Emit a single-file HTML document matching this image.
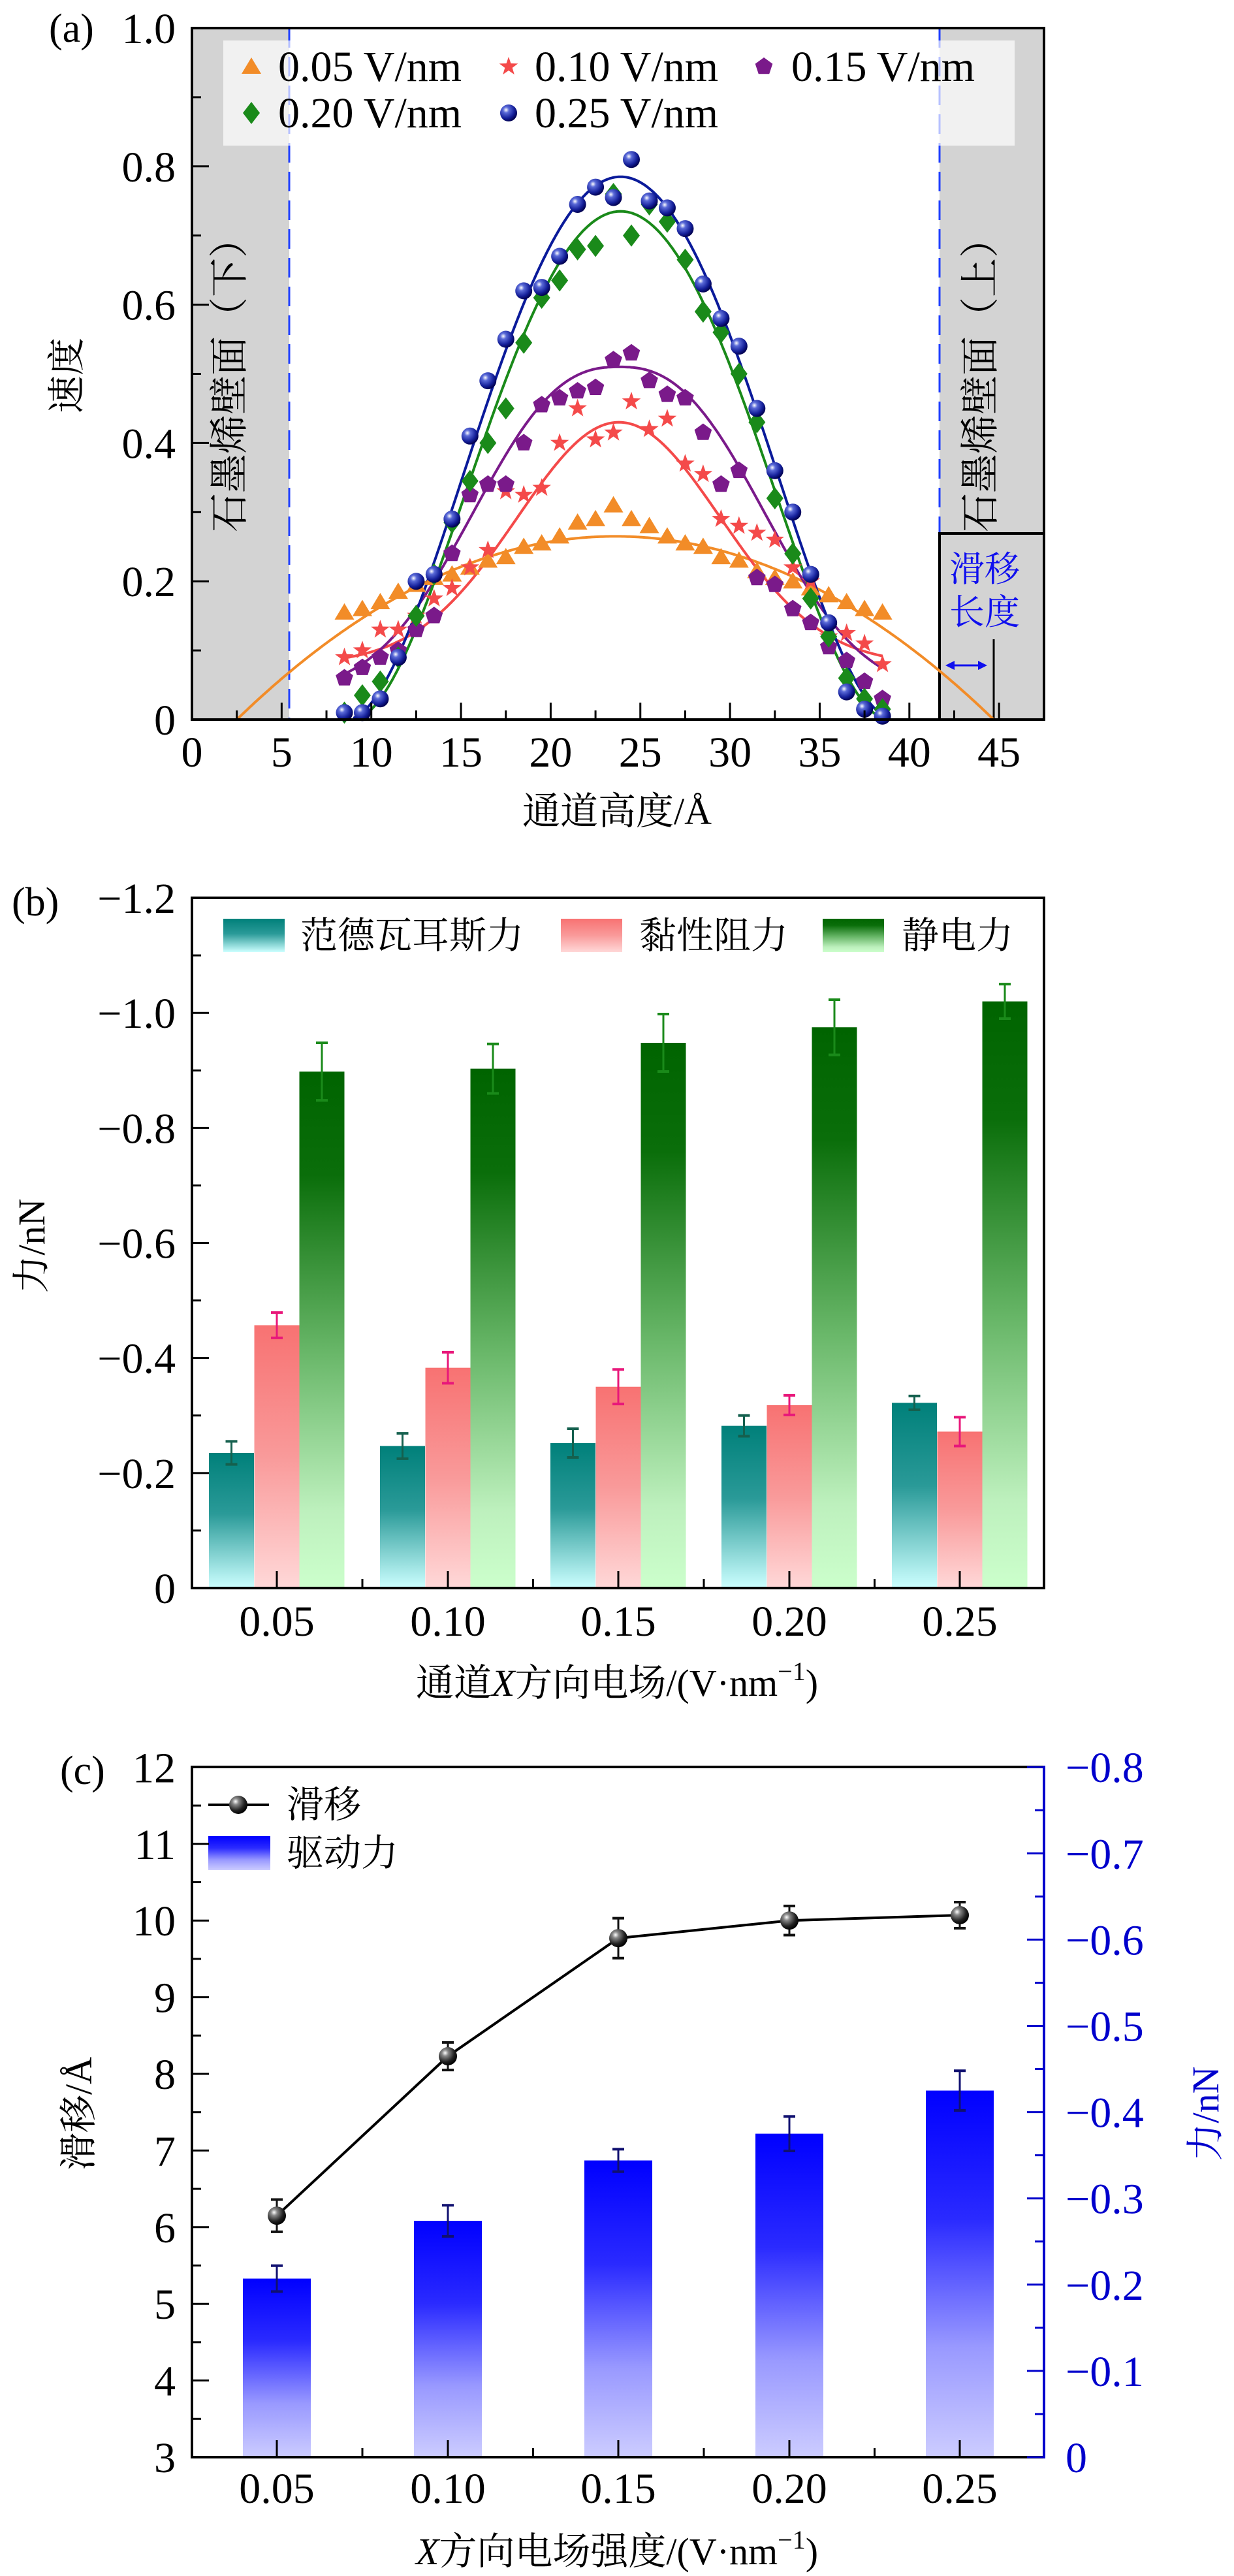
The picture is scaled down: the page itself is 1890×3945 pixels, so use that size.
<!DOCTYPE html>
<html><head><meta charset="utf-8"><style>
html,body{margin:0;padding:0;background:#fff}
svg{display:block}
text{font-family:"Liberation Serif","Noto Serif CJK SC",serif}
.cj{font-family:"Liberation Serif","Noto Serif CJK SC","Noto Sans CJK SC",serif}
</style></head><body>
<svg id="s" xmlns="http://www.w3.org/2000/svg" width="1890" height="3945" viewBox="0 0 1890 3945">
<defs>
<radialGradient id="gb" cx="0.35" cy="0.32" r="0.7"><stop offset="0" stop-color="#fff"/><stop offset="0.25" stop-color="#5a6ad8"/><stop offset="0.7" stop-color="#15209a"/><stop offset="1" stop-color="#000050"/></radialGradient>
<radialGradient id="gk" cx="0.35" cy="0.32" r="0.7"><stop offset="0" stop-color="#fff"/><stop offset="0.25" stop-color="#888"/><stop offset="0.7" stop-color="#222"/><stop offset="1" stop-color="#000"/></radialGradient>
<linearGradient id="gt" x1="0" y1="0" x2="0" y2="1"><stop offset="0" stop-color="#00807a"/><stop offset="0.45" stop-color="#2a9a98"/><stop offset="1" stop-color="#ccffff"/></linearGradient>
<linearGradient id="gp" x1="0" y1="0" x2="0" y2="1"><stop offset="0" stop-color="#f87272"/><stop offset="0.5" stop-color="#f99a9a"/><stop offset="1" stop-color="#ffd8d8"/></linearGradient>
<linearGradient id="gg" x1="0" y1="0" x2="0" y2="1"><stop offset="0" stop-color="#006400"/><stop offset="0.2" stop-color="#0a6e0a"/><stop offset="0.55" stop-color="#6ab86a"/><stop offset="0.85" stop-color="#bdf0bd"/><stop offset="1" stop-color="#ccffcc"/></linearGradient>
<linearGradient id="gbl" x1="0" y1="0" x2="0" y2="1"><stop offset="0" stop-color="#0000ff"/><stop offset="0.35" stop-color="#2a2aff"/><stop offset="0.7" stop-color="#9999ff"/><stop offset="1" stop-color="#ccccff"/></linearGradient>
</defs>
<g id="g"></g>
</svg>
<script>
var o=[];
var FS=66,DY=23;
function P(s){o.push(s);}
function line(x1,y1,x2,y2,c,w,extra){P('<line x1="'+x1+'" y1="'+y1+'" x2="'+x2+'" y2="'+y2+'" stroke="'+(c||'#000')+'" stroke-width="'+(w||4)+'" '+(extra||'')+'/>');}
function txt(x,y,s,size,anchor,extra){P('<text x="'+x+'" y="'+y+'" font-size="'+size+'" text-anchor="'+(anchor||'start')+'" '+(extra||'')+'>'+s+'</text>');}
function vtxt(x,y,s,size,extra){P('<text x="0" y="0" font-size="'+size+'" text-anchor="middle" transform="translate('+x+','+y+') rotate(-90)" '+(extra||'')+'>'+s+'</text>');}
var L=294,R=1599;
// ===== Panel A =====
(function(){
var T=43,B=1102;
function X(a){return L+a*27.47;} function Y(v){return B-v*1059;}
P('<rect x="'+L+'" y="'+T+'" width="'+(443-L)+'" height="'+(B-T)+'" fill="#d3d3d3"/>');
P('<rect x="1439" y="'+T+'" width="'+(R-1439)+'" height="'+(B-T)+'" fill="#d3d3d3"/>');
line(443,T,443,B,'#1f3fff',3,'stroke-dasharray="30,14"');
line(1439,T,1439,817,'#1f3fff',3,'stroke-dasharray="30,14"');
P('<rect x="342" y="62" width="1212" height="161" fill="#fff" fill-opacity="0.68"/>');
vtxt(372,575,'石墨烯壁面（下）',60,'class="cj"');
vtxt(1522,575,'石墨烯壁面（上）',60,'class="cj"');
P('<rect x="1439" y="817" width="160" height="285" fill="none" stroke="#000" stroke-width="4"/>');
txt(1508,890,'滑移',54,'middle','class="cj" fill="#1010ee"');
txt(1508,956,'长度',54,'middle','class="cj" fill="#1010ee"');
line(1522,979,1522,1102,'#000',3);
line(1458,1019,1502,1019,'#1010ee',3);
P('<polygon points="1448,1019 1462,1012 1462,1026" fill="#1010ee"/><polygon points="1512,1019 1498,1012 1498,1026" fill="#1010ee"/>');
function curve(f,a0,a1,c){var p=[];for(var a=a0;a<=a1+1e-9;a+=0.1){var v=f(a);if(v<0)v=0;p.push(X(a).toFixed(1)+','+Y(v).toFixed(1));}P('<polyline points="'+p.join(' ')+'" fill="none" stroke="'+c+'" stroke-width="4"/>');}
curve(function(a){return 0.265*(1-Math.pow((a-23.6)/21.1,2));},2.5,44.7,'#f28c28');
curve(function(a){var d=(a-23.8)/8;return 0.08+0.35*Math.exp(-d*d);},8.5,38.5,'#f44a4a');
curve(function(a){var d=Math.abs(a-23.8)/10;return 0.04+0.47*Math.exp(-Math.pow(d,2.5));},8.5,38.5,'#7a1a8a');
curve(function(a){var d=(a-23.9)/15;var u=1-d*d;return u<0?0:0.735*u*u;},8.5,38.5,'#1a8a1a');
curve(function(a){var d=(a-23.9)/15.3;var u=1-d*d;return u<0?0:0.785*u*u;},9,38.3,'#0a1a9a');
function tri(x,y,c){P('<polygon points="'+x+','+(y-14)+' '+(x-15)+','+(y+11)+' '+(x+15)+','+(y+11)+'" fill="'+c+'"/>');}
function star(x,y,c){var p=[];for(var i=0;i<10;i++){var r=i%2?6:15;var t=-Math.PI/2+i*Math.PI/5;p.push((x+r*Math.cos(t)).toFixed(1)+','+(y+r*Math.sin(t)).toFixed(1));}P('<polygon points="'+p.join(' ')+'" fill="'+c+'"/>');}
function pent(x,y,c){var p=[];for(var i=0;i<5;i++){var t=-Math.PI/2+i*2*Math.PI/5;p.push((x+14*Math.cos(t)).toFixed(1)+','+(y+14*Math.sin(t)).toFixed(1));}P('<polygon points="'+p.join(' ')+'" fill="'+c+'"/>');}
function dia(x,y,c){P('<polygon points="'+x+','+(y-17)+' '+(x+13)+','+y+' '+x+','+(y+17)+' '+(x-13)+','+y+'" fill="'+c+'"/>');}
function ball(x,y){P('<circle cx="'+x+'" cy="'+y+'" r="13" fill="url(#gb)"/>');}
var dO=[.155,.16,.17,.185,.195,.205,.21,.22,.23,.235,.25,.255,.265,.285,.29,.31,.29,.28,.265,.255,.25,.235,.23,.215,.205,.2,.19,.18,.17,.16,.155];
var dR=[.09,.1,.13,.13,.15,.175,.19,.22,.245,.33,.325,.335,.4,.45,.405,.415,.46,.42,.435,.37,.355,.29,.28,.27,.26,.22,.2,.12,.125,.11,.08];
var dP=[.06,.075,.09,.1,.13,.15,.24,.325,.34,.34,.4,.455,.465,.475,.48,.52,.53,.49,.47,.465,.415,.34,.36,.205,.195,.16,.14,.105,.085,.055,.03];
var dG=[.01,.035,.055,.09,.15,.21,.285,.345,.4,.45,.545,.61,.635,.68,.685,.76,.7,.745,.72,.665,.59,.56,.5,.43,.32,.24,.175,.12,.06,.03,.015];
var dB=[.01,.01,.03,.09,.2,.21,.29,.41,.49,.55,.62,.625,.67,.745,.77,.755,.81,.75,.74,.71,.63,.58,.54,.45,.36,.3,.21,.14,.04,.015,.005];
for(var i=0;i<31;i++){var a=8.5+i,x=X(a);
tri(x,Y(dO[i]),'#f28c28');star(x,Y(dR[i]),'#f44a4a');pent(x,Y(dP[i]),'#7a1a8a');dia(x,Y(dG[i]),'#1a8a1a');ball(x,Y(dB[i]));}
tri(385,102,'#f28c28');txt(426,124,'0.05 V/nm',FS);
star(779,102,'#f44a4a');txt(819,124,'0.10 V/nm',FS);
pent(1170,102,'#7a1a8a');txt(1212,124,'0.15 V/nm',FS);
dia(385,173,'#1a8a1a');txt(426,195,'0.20 V/nm',FS);
ball(779,173);txt(819,195,'0.25 V/nm',FS);
P('<rect x="'+L+'" y="'+T+'" width="'+(R-L)+'" height="'+(B-T)+'" fill="none" stroke="#000" stroke-width="4"/>');
for(var a=0;a<=47.5;a+=2.5){var x=X(a);var maj=(a%5==0);line(x,B,x,B-(maj?26:14),'#000',3);if(maj)txt(x,1174,a,FS,'middle');}
for(var v=0;v<=1.001;v+=0.1){var y=Y(v);var maj=(Math.round(v*10)%2==0);line(L,y,L+(maj?26:14),y,'#000',3);if(maj)txt(269,y+DY,v<0.01?'0':v.toFixed(1),FS,'end');}
txt(75,64,'(a)',62);
vtxt(122,575,'速度',58,'class="cj"');
txt(945,1262,'通道高度/Å',58,'middle','class="cj"');
})();
// ===== Panel B =====
(function(){
var T=1375,B=2432;function Y(m){return B-m*880.8;}
var C=[424,686,947,1209,1470],w=69;
var t=[.235,.247,.252,.282,.322],te=[.02,.022,.025,.018,.012];
var p=[.457,.383,.35,.318,.272],pe=[.022,.027,.03,.017,.025];
var g=[.898,.903,.948,.975,1.02],ge=[.05,.043,.05,.048,.03];
function bar(x,m,e,fill,ec){P('<rect x="'+x+'" y="'+Y(m)+'" width="'+w+'" height="'+(B-Y(m))+'" fill="url(#'+fill+')"/>');var cx=x+w/2;line(cx,Y(m+e),cx,Y(m-e),ec,3);line(cx-9,Y(m+e),cx+9,Y(m+e),ec,4);line(cx-9,Y(m-e),cx+9,Y(m-e),ec,4);}
for(var i=0;i<5;i++){bar(C[i]-104,t[i],te[i],'gt','#15604e');bar(C[i]-34.5,p[i],pe[i],'gp','#e8177a');bar(C[i]+34.5,g[i],ge[i],'gg','#1a8a1a');}
P('<rect x="342" y="1407" width="94" height="51" fill="url(#gt)"/><rect x="859" y="1407" width="94" height="51" fill="url(#gp)"/><rect x="1260" y="1407" width="94" height="51" fill="url(#gg)"/>');
txt(460,1452,'范德瓦耳斯力',57,'start','class="cj"');
txt(979,1452,'黏性阻力',57,'start','class="cj"');
txt(1381,1452,'静电力',57,'start','class="cj"');
P('<rect x="'+L+'" y="'+T+'" width="'+(R-L)+'" height="'+(B-T)+'" fill="none" stroke="#000" stroke-width="4"/>');
var lab=['0.05','0.10','0.15','0.20','0.25'];
for(var i=0;i<5;i++){line(C[i],B,C[i],B-26,'#000',3);txt(C[i],2505,lab[i],FS,'middle');if(i<4)line((C[i]+C[i+1])/2,B,(C[i]+C[i+1])/2,B-14,'#000',3);}
for(var k=0;k<=12;k++){var y=Y(k/10);var maj=k%2==0;line(L,y,L+(maj?26:14),y,'#000',3);if(maj)txt(269,y+DY,k==0?'0':'−'+(k/10).toFixed(1),FS,'end');}
txt(18,1402,'(b)',62);
vtxt(68,1908,'力/nN',58,'class="cj"');
txt(945,2597,'通道<tspan font-style="italic">X</tspan>方向电场/(V·nm<tspan font-size="40" dy="-24">−1</tspan><tspan dy="24">)</tspan>',58,'middle','class="cj"');
})();
// ===== Panel C =====
(function(){
var T=2706,B=3763;function YL(v){return B-(v-3)*117.4;}function YR(m){return B-m*1321;}
var C=[424,686,947,1209,1470],w=104;
var f=[.207,.274,.344,.375,.425],fe=[.015,.018,.013,.02,.023];
var s=[6.15,8.23,9.77,10.0,10.07],se=[.21,.18,.26,.19,.17];
for(var i=0;i<5;i++){var x=C[i]-w/2;P('<rect x="'+x+'" y="'+YR(f[i])+'" width="'+w+'" height="'+(B-YR(f[i]))+'" fill="url(#gbl)"/>');
var c='#101070';line(C[i],YR(f[i]+fe[i]),C[i],YR(f[i]-fe[i]),c,3);line(C[i]-9,YR(f[i]+fe[i]),C[i]+9,YR(f[i]+fe[i]),c,4);line(C[i]-9,YR(f[i]-fe[i]),C[i]+9,YR(f[i]-fe[i]),c,4);}
var pts=[];for(var i=0;i<5;i++)pts.push(C[i]+','+YL(s[i]));
P('<polyline points="'+pts.join(' ')+'" fill="none" stroke="#000" stroke-width="4"/>');
for(var i=0;i<5;i++){var y1=YL(s[i]+se[i]),y2=YL(s[i]-se[i]);line(C[i],y1,C[i],y2,'#111',3);line(C[i]-9,y1,C[i]+9,y1,'#111',4);line(C[i]-9,y2,C[i]+9,y2,'#111',4);P('<circle cx="'+C[i]+'" cy="'+YL(s[i])+'" r="14" fill="url(#gk)"/>');}
line(319,2764,412,2764,'#000',4);P('<circle cx="365" cy="2764" r="14" fill="url(#gk)"/>');
txt(439,2783,'滑移',57,'start','class="cj"');
P('<rect x="319" y="2812" width="95" height="52" fill="url(#gbl)"/>');
txt(439,2857,'驱动力',57,'start','class="cj"');
P('<path d="M'+R+' '+T+' H'+L+' V'+B+' H'+R+'" fill="none" stroke="#000" stroke-width="4"/>');
line(R,T-2,R,B+2,'#0000cc',4);
var lab=['0.05','0.10','0.15','0.20','0.25'];
for(var i=0;i<5;i++){line(C[i],B,C[i],B-26,'#000',3);txt(C[i],3833,lab[i],FS,'middle');if(i<4)line((C[i]+C[i+1])/2,B,(C[i]+C[i+1])/2,B-14,'#000',3);}
for(var k=0;k<=18;k++){var v=3+k/2;var y=YL(v);var maj=k%2==0;line(L,y,L+(maj?26:14),y,'#000',3);if(maj)txt(269,y+DY,v,FS,'end');}
for(var k=0;k<=16;k++){var y=YR(k*0.05);var maj=k%2==0;line(R,y,R-(maj?26:14),y,'#0000cc',3);if(maj)txt(1632,y+DY,k==0?'0':'−'+(k*0.05).toFixed(1),FS,'start','fill="#0000cc"');}
txt(92,2732,'(c)',62);
vtxt(140,3237,'滑移/Å',58,'class="cj"');
vtxt(1866,3237,'力/nN',58,'class="cj" fill="#0000cc"');
txt(945,3927,'<tspan font-style="italic">X</tspan>方向电场强度/(V·nm<tspan font-size="40" dy="-24">−1</tspan><tspan dy="24">)</tspan>',58,'middle','class="cj"');
})();
document.getElementById('g').innerHTML=o.join('');
</script>
</body></html>
